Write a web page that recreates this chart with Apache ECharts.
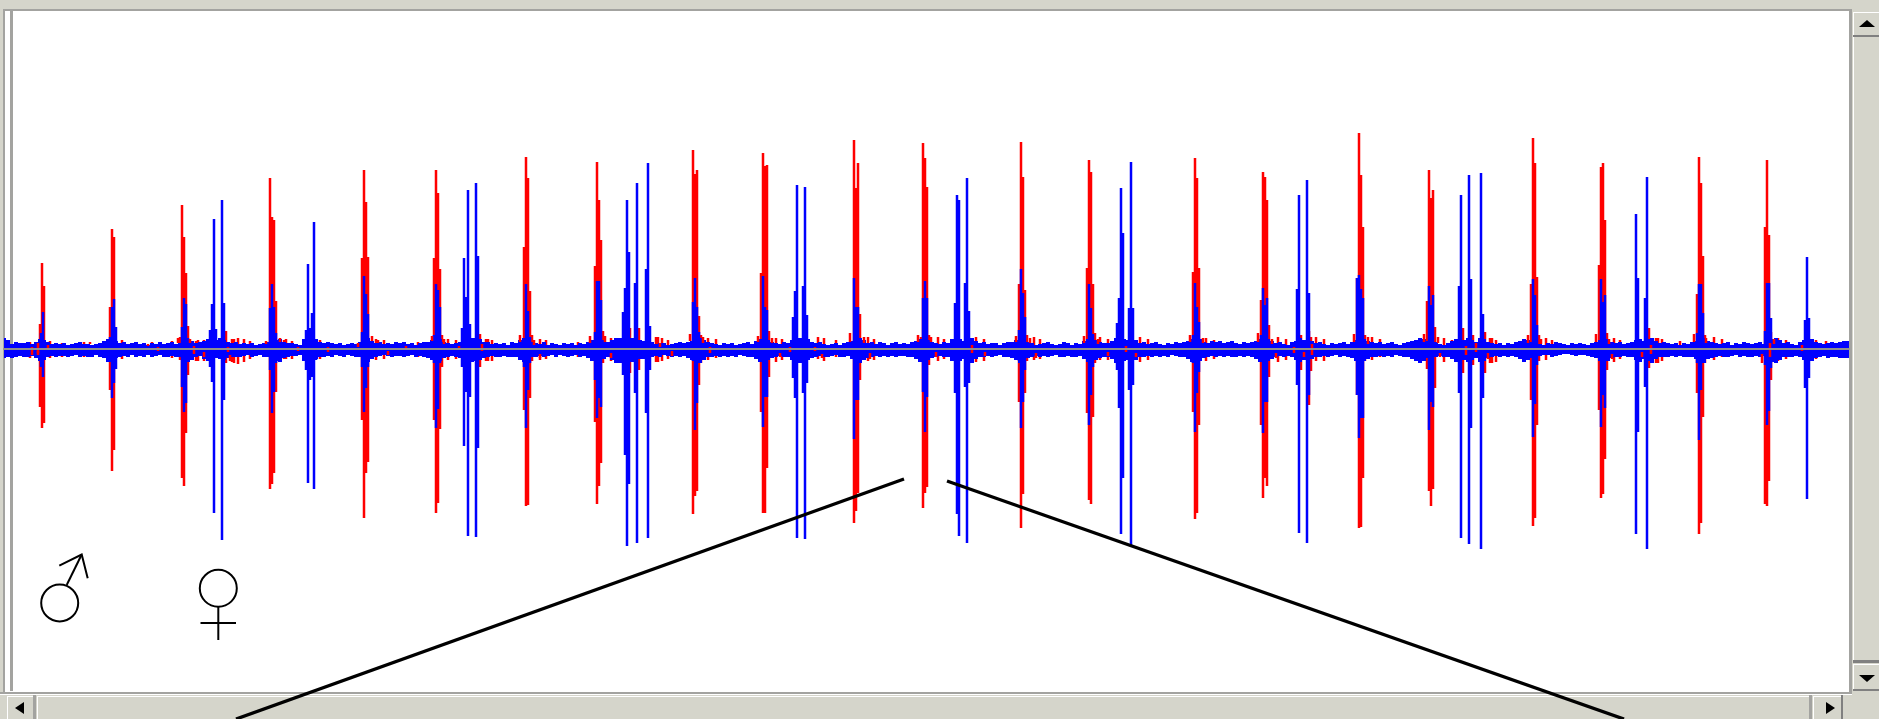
<!DOCTYPE html>
<html><head><meta charset="utf-8">
<style>html,body{margin:0;padding:0;background:#fff;overflow:hidden}#c{width:1879px;height:719px;filter:blur(.45px)}</style>
<script src="https://cdn.jsdelivr.net/npm/echarts@6/dist/echarts.min.js"></script>
</head><body><div id="c"></div>
<script>
// [sample, positive peak, negative peak]
const redSpikes=[
[40,25,-58],[42,86,-79],[44,63,-74],
[110,42,-41],[112,120,-122],[114,112,-101],
[182,144,-129],[184,112,-137],[186,76,-84],[188,23,-26],[180,12,-11],
[226,18,-14],
[270,171,-140],[272,132,-135],[274,129,-124],[276,48,-43],
[362,91,-71],[364,179,-169],[366,147,-124],[368,92,-113],
[434,91,-71],[436,179,-164],[438,156,-154],[440,80,-80],[442,14,-18],
[480,15,-18],
[524,102,-61],[526,192,-157],[528,171,-156],[530,58,-49],[532,14,-12],
[595,83,-73],[597,187,-155],[599,149,-137],[601,109,-114],[603,18,-14],
[630,21,-24],[639,21,-21],
[693,199,-165],[695,175,-147],[697,179,-142],[699,33,-36],[701,14,-14],
[761,76,-63],[763,196,-164],[765,183,-164],[767,184,-119],[769,18,-28],
[854,209,-174],[856,161,-162],[858,186,-144],[860,35,-31],
[923,206,-159],[925,191,-144],[927,162,-138],[929,14,-16],[921,12,-10],
[1019,65,-53],[1021,207,-179],[1023,172,-145],[1025,59,-44],[1027,14,-12],
[1087,81,-64],[1089,189,-151],[1091,177,-155],[1093,65,-68],[1095,16,-14],
[1193,77,-63],[1195,191,-170],[1197,171,-164],[1199,81,-76],
[1261,49,-76],[1263,177,-149],[1265,172,-129],[1267,149,-137],[1269,24,-28],
[1301,14,-21],[1309,18,-56],[1311,12,-22],
[1357,71,-46],[1359,216,-179],[1361,174,-178],[1363,122,-129],[1365,14,-12],
[1427,48,-20],[1429,179,-142],[1431,151,-157],[1433,159,-140],[1435,22,-39],
[1463,21,-24],[1473,14,-16],[1485,17,-24],
[1531,65,-51],[1533,211,-177],[1535,186,-169],[1537,72,-76],[1539,14,-12],
[1599,84,-61],[1601,182,-149],[1603,186,-145],[1605,129,-110],[1607,16,-21],
[1649,21,-19],
[1697,55,-44],[1699,192,-185],[1701,166,-174],[1703,93,-68],[1705,14,-14],
[1765,122,-155],[1767,189,-157],[1769,114,-132],[1771,17,-31]
];
const blueSpikes=[
[41,16,-18],[43,37,-28],
[110,12,-13],[112,42,-49],[114,50,-34],[116,22,-20],
[182,22,-38],[184,51,-63],[186,45,-54],[188,11,-8],
[210,19,-18],[212,45,-33],[214,130,-164],[216,20,-8],
[222,149,-191],[224,46,-51],
[270,41,-21],[272,65,-64],[274,42,-43],[276,16,-14],
[306,19,-21],[308,85,-134],[310,21,-31],[312,36,-28],[314,127,-140],[316,9,-11],
[362,17,-18],[364,73,-63],[366,55,-39],[368,35,-18],
[434,14,-14],[436,65,-79],[438,59,-60],[440,42,-14],
[462,21,-18],[464,91,-97],[466,52,-43],[468,159,-187],[470,25,-48],
[476,166,-188],[478,93,-99],
[524,9,-18],[526,65,-79],[528,38,-41],[530,12,-14],
[595,17,-31],[597,68,-69],[599,68,-49],[601,49,-58],
[623,37,-26],[625,61,-106],[627,149,-197],[629,97,-135],
[635,66,-44],[637,166,-194],[646,80,-64],[648,186,-189],[650,23,-21],
[693,47,-12],[695,71,-81],[697,42,-54],[699,17,-14],
[763,73,-78],[765,42,-48],[767,39,-48],
[793,32,-29],[795,58,-49],[797,164,-189],[803,63,-44],[805,162,-190],[807,34,-34],
[854,71,-90],[856,42,-51],[858,42,-51],
[923,51,-43],[925,68,-83],[927,51,-48],
[955,46,-44],[957,154,-165],[959,149,-187],[965,66,-38],[967,171,-194],[969,38,-34],
[1019,19,-12],[1021,80,-79],[1023,56,-53],[1025,32,-21],
[1089,65,-76],[1091,41,-46],[1093,15,-18],
[1117,26,-21],[1119,51,-59],[1121,161,-185],[1123,116,-129],
[1129,41,-41],[1131,187,-196],[1133,41,-36],
[1193,14,-14],[1195,66,-83],[1197,42,-44],[1199,27,-23],
[1261,14,-12],[1263,61,-84],[1265,44,-53],[1267,51,-53],
[1297,60,-36],[1299,154,-184],[1307,169,-194],[1309,56,-46],
[1357,71,-46],[1359,74,-89],[1361,60,-69],[1363,51,-69],
[1429,63,-81],[1431,44,-53],[1433,54,-58],
[1459,63,-44],[1461,154,-189],[1469,174,-195],[1471,70,-79],[1481,176,-200],[1483,35,-49],
[1533,70,-88],[1535,54,-55],[1537,24,-16],
[1601,70,-78],[1603,47,-46],[1605,54,-59],
[1636,135,-185],[1638,71,-83],[1645,51,-38],[1647,172,-200],
[1697,16,-14],[1699,65,-91],[1701,65,-41],[1703,36,-14],
[1765,18,-16],[1767,66,-76],[1769,66,-62],[1771,31,-19],
[1805,29,-39],[1807,92,-150],[1809,31,-29]
];
// one noise reading every four samples, starting at sample 4
const noiseStart=4, noiseStep=4;
const blueNoiseHi=[
11,9,5,7,6,6,7,5,7,10,9,7,5,6,5,6,4,5,6,7,5,5,4,5,6,
8,10,9,8,6,7,5,6,7,5,6,4,6,5,7,5,6,7,5,6,8,10,8,6,7,
8,10,11,9,11,9,7,6,7,5,6,5,6,4,5,6,7,7,9,10,7,6,6,5,4,
10,11,12,10,7,6,7,6,5,6,4,5,6,5,7,9,11,8,6,7,5,6,5,7,6,
7,5,6,4,6,7,7,9,11,10,7,6,5,6,7,11,12,11,11,10,7,7,5,6,5,
6,4,7,6,9,11,9,7,6,5,7,4,6,5,4,6,5,6,4,6,5,7,9,11,10,
9,7,9,11,11,12,11,11,11,9,8,6,7,5,6,6,4,5,6,7,6,7,8,10,11,
9,7,6,5,4,6,5,6,4,5,6,7,5,8,10,11,9,7,6,5,7,6,9,11,11,
12,10,7,6,7,5,4,5,6,4,6,7,8,10,11,9,6,7,5,7,6,4,6,7,5,
6,5,7,8,10,11,9,7,6,5,7,6,10,11,10,8,11,11,8,6,7,5,6,6,4,
6,7,7,9,11,9,7,6,4,5,6,7,5,4,5,7,6,4,6,5,8,10,11,9,7,
6,6,8,11,11,10,9,11,9,6,7,5,6,7,5,4,6,5,7,6,7,8,10,11,10,
7,6,8,7,8,6,7,8,6,5,7,6,7,8,10,11,10,8,6,7,5,4,7,8,11,
9,11,8,6,7,5,4,6,5,6,7,5,7,9,11,10,8,7,6,7,5,6,7,5,4,
6,7,8,9,11,10,8,6,7,5,4,6,8,10,11,9,11,9,7,11,10,7,6,5,6,
4,6,5,7,8,10,9,7,6,5,4,6,5,7,6,5,4,6,5,6,5,4,6,7,9,
11,10,7,6,7,5,6,7,9,10,8,10,11,8,6,7,6,5,6,4,6,5,7,8,10,
11,8,7,6,5,6,7,4,6,5,7,6,5,6,7,5,9,10,11,9,6,7,5,4,7,
9,11,10,7,6,5,6,7,6,7,8,8];
const blueNoiseLo=[
-9,-8,-9,-8,-7,-8,-8,-7,-9,-12,-11,-8,-7,-8,-7,-7,-8,-7,-6,-8,-7,-8,-8,-6,-8,
-9,-13,-12,-9,-8,-7,-8,-6,-8,-7,-8,-6,-8,-7,-6,-8,-8,-7,-8,-8,-10,-13,-11,-8,-7,
-10,-12,-11,-9,-10,-11,-9,-8,-8,-8,-7,-6,-8,-7,-6,-8,-8,-9,-12,-13,-9,-8,-7,-7,-6,
-12,-14,-13,-10,-8,-8,-7,-8,-6,-7,-8,-6,-7,-8,-8,-11,-13,-10,-8,-7,-6,-7,-8,-7,-7,
-8,-7,-6,-8,-7,-8,-9,-11,-13,-12,-9,-8,-7,-8,-9,-12,-14,-13,-12,-11,-9,-8,-7,-8,-8,
-7,-8,-8,-8,-11,-13,-10,-8,-8,-7,-8,-7,-6,-8,-6,-7,-8,-7,-6,-8,-7,-9,-12,-13,-12,
-10,-8,-11,-14,-14,-13,-12,-13,-14,-10,-10,-8,-8,-7,-8,-6,-7,-8,-7,-8,-7,-9,-11,-13,-14,
-11,-8,-8,-7,-8,-7,-8,-7,-8,-6,-7,-8,-8,-10,-13,-14,-11,-9,-8,-7,-8,-8,-11,-13,-14,
-13,-11,-9,-8,-7,-8,-8,-7,-6,-8,-8,-7,-10,-12,-14,-11,-9,-8,-7,-8,-7,-8,-7,-8,-7,
-7,-8,-8,-10,-13,-14,-11,-9,-8,-7,-8,-8,-12,-14,-12,-10,-13,-14,-10,-8,-8,-7,-8,-7,-6,
-8,-8,-9,-11,-14,-11,-9,-8,-7,-8,-7,-8,-7,-6,-8,-8,-7,-8,-8,-7,-10,-13,-14,-11,-9,
-8,-8,-10,-14,-14,-12,-11,-14,-11,-8,-8,-7,-8,-7,-8,-7,-8,-6,-7,-8,-8,-10,-13,-14,-12,
-9,-8,-7,-8,-7,-8,-7,-8,-8,-7,-8,-7,-8,-10,-13,-14,-12,-10,-8,-7,-8,-7,-8,-11,-13,
-11,-13,-10,-8,-8,-7,-8,-7,-6,-8,-7,-8,-9,-12,-14,-12,-10,-8,-8,-7,-8,-7,-8,-6,-7,
-8,-8,-10,-12,-14,-12,-9,-8,-8,-7,-8,-8,-10,-13,-13,-11,-13,-11,-9,-13,-12,-9,-8,-7,-8,
-7,-8,-7,-8,-10,-13,-11,-9,-8,-7,-6,-6,-8,-7,-6,-5,-5,-6,-7,-6,-6,-7,-8,-9,-12,
-14,-12,-9,-8,-8,-7,-8,-8,-11,-13,-10,-12,-14,-10,-8,-8,-8,-7,-8,-7,-8,-8,-8,-10,-13,
-14,-10,-9,-8,-7,-8,-8,-7,-6,-8,-7,-8,-8,-7,-8,-7,-11,-13,-14,-11,-8,-8,-8,-7,-8,
-11,-13,-12,-9,-8,-7,-9,-8,-8,-9,-9,-9];
// red residue that shows past the blue noise, mostly just after each call
const redTail=[
[30,7,-9],[50,8,-9],[62,6,-8],[84,7,-8],[122,9,-10],[152,7,-8],[172,8,-9],
[196,8,-12],[198,9,-12],[204,9,-12],[232,10,-13],[234,10,-14],[238,11,-15],[244,10,-13],[250,8,-10],[284,9,-10],[286,10,-10],[292,8,-10],
[320,9,-10],[376,10,-11],[384,9,-10],[418,7,-8],[448,10,-11],[456,9,-10],[486,10,-12],[488,10,-12],[492,9,-12],
[540,10,-11],[546,9,-10],[578,7,-8],[611,11,-12],[617,10,-11],[656,12,-13],[658,12,-13],[662,11,-12],[668,9,-10],
[708,11,-11],[716,10,-9],[776,11,-13],[782,10,-11],[818,12,-10],[824,11,-12],[836,9,-8],[868,12,-12],
[874,10,-11],[938,12,-12],[944,10,-10],[976,12,-13],[984,10,-12],[1034,12,-11],[1040,10,-10],[1100,12,-11],
[1108,10,-11],[1140,12,-13],[1148,10,-11],[1206,11,-12],[1214,9,-10],[1278,12,-13],[1286,10,-11],
[1316,12,-12],[1324,10,-12],[1372,12,-11],[1380,10,-8],[1444,11,-13],[1452,9,-10],[1490,11,-14],[1492,11,-14],[1496,9,-13],
[1546,11,-11],[1552,9,-8],[1614,11,-13],[1620,9,-10],[1656,11,-14],[1658,11,-14],[1662,10,-12],[1680,8,-7],[1714,12,-11],
[1722,10,-8],[1778,11,-12],[1786,9,-10],[1816,9,-10],[1826,8,-7]
];
// red samples drawn in front of the blue trace
const redOverlay=[
[32,2,-6],[38,6,-4],[48,4,-1],[38,-2,-6],[90,7,5],[148,5,3],[158,2,-2],[178,11,6],[190,10,6],[194,3,-5],[204,-3,-8],
[228,2,-3],[230,-6,-12],[266,8,5],[280,11,7],[298,2,-2],[328,2,-3],[358,6,2],[372,13,8],[378,9,6],[388,-2,-6],
[406,3,-1],[432,13,8],[444,10,5],[459,3,-1],[482,5,-2],[520,14,7],[534,9,4],[540,-5,-9],[590,13,6],[605,13,7],[611,-4,-9],
[660,6,2],[672,-2,-7],[690,15,8],[703,12,6],[710,2,-4],[758,13,7],[772,11,6],[780,-4,-8],[790,2,-3],[815,2,-2],[822,-5,-9],
[850,16,7],[864,12,6],[870,-4,-10],[918,14,7],[931,12,7],[936,-3,-8],[972,4,-4],[985,-3,-7],[1016,13,7],[1030,11,6],
[1036,-4,-9],[1084,13,6],[1098,10,5],[1108,-3,-7],[1126,3,-3],[1136,-4,-8],[1190,14,7],[1203,11,6],[1258,16,7],[1272,10,5],
[1276,-4,-9],[1294,2,-4],[1304,-3,-8],[1312,5,-6],[1354,15,7],[1368,12,5],[1424,15,7],[1438,12,6],[1440,-4,-8],[1466,3,-6],
[1476,6,-3],[1488,-4,-10],[1528,14,6],[1541,10,5],[1596,15,7],[1609,10,5],[1612,-5,-10],[1642,-3,-8],[1651,4,-5],[1694,15,7],
[1706,11,6],[1762,-5,-14],[1770,6,-8],[1774,10,5],[1802,4,-2]
];
const spikeWidth=2.5;
const sampled=(hi,lo)=>hi.map((h,i)=>[noiseStart+i*noiseStep,h,lo[i]]);

function bars(width,color){return function(p,api){
  const x=api.value(0),a=api.coord([x,api.value(1)]),b=api.coord([x,api.value(2)]);
  const w=api.size([width,0])[0];
  return {type:'rect',shape:{x:a[0]-w/2,y:a[1],width:w,height:b[1]-a[1]},style:{fill:color}};
};}
function series(name,data,width,color,z){
  return {name,type:'custom',data,z,clip:true,silent:true,animation:false,
    encode:{x:0,y:[1,2]},renderItem:bars(width,color)};
}

const face='#d5d5cb',shade='#808080',mid='#a3a3a0',hi='#ffffff';
const rect=(x,y,w,h,fill,z)=>({type:'rect',shape:{x,y,width:w,height:h},style:{fill},z:z||1,silent:true});
const tri=(pts,z)=>({type:'polygon',shape:{points:pts},style:{fill:'#000'},z:z||3,silent:true});
const stroke=(pts,w)=>({type:'polyline',shape:{points:pts},style:{stroke:'#000',lineWidth:w,fill:null,lineCap:'butt'},z:20,silent:true});
const ring=(cx,cy,r)=>({type:'circle',shape:{cx,cy,r},style:{stroke:'#000',lineWidth:2,fill:null},z:20,silent:true});
const chrome=[
  rect(0,0,1879,719,'#fff',-5),
  rect(0,0,1879,9,face),rect(0,9,1850,2,mid),
  rect(0,0,3,693,face),rect(3,9,2,684,mid),rect(10,11,3,680,mid),
  rect(1849,9,3,684,mid),rect(1852,0,27,719,face),
  rect(1853,12,26,1,hi),rect(1853,12,1,24,hi),rect(1853,35,26,2,shade),
  rect(1853,37,1,623,hi),rect(1853,660,26,3,shade),
  rect(1853,664,26,1,hi),rect(1853,664,1,26,hi),rect(1853,689,26,2,shade),
  rect(0,692,1852,27,face),rect(0,692,1852,2,mid),rect(0,694,1852,1,hi),
  rect(7,696,26,1,hi),rect(7,696,1,23,hi),rect(33,695,3,24,mid),rect(37,696,1772,1,hi),rect(37,696,1,23,hi),
  rect(1809,695,3,24,mid),rect(1813,696,28,1,hi),rect(1813,696,1,23,hi),rect(1841,695,2,24,shade),
  tri([[1867,20],[1859,27],[1875,27]]),
  tri([[1867,682],[1859,675],[1875,675]]),
  tri([[15,708],[24,702],[24,714]]),
  tri([[1835,708],[1826,702],[1826,714]]),
  stroke([[904,479],[236,719]],3.4),
  stroke([[947,481],[1624,719]],3.4),
  ring(59.7,603,18.5),
  stroke([[66.7,585],[81.7,554.5]],2),
  stroke([[59.3,565.7],[81.7,554.5],[87.7,578.3]],2),
  ring(218.3,588.3,18.5),
  stroke([[218.3,607],[218.3,640]],2),
  stroke([[200.5,623],[236,623]],2)
];

const chart=echarts.init(document.getElementById('c'),null,{renderer:'canvas'});
chart.setOption({
  animation:false,
  backgroundColor:'transparent',
  grid:{left:4,right:30,top:11,bottom:27},
  xAxis:{type:'value',min:4,max:1849,z:10,splitLine:{show:false},axisTick:{show:false},axisLabel:{show:false},
    axisLine:{show:true,onZero:true,lineStyle:{color:'#8f8f8f',width:2}}},
  yAxis:{type:'value',min:-343,max:338,splitLine:{show:false},axisTick:{show:false},axisLabel:{show:false},axisLine:{show:false}},
  series:[
    series('female residue',redTail,spikeWidth,'#ff0000',2),
    series('female',redSpikes,spikeWidth,'#ff0000',3),
    series('male noise',sampled(blueNoiseHi,blueNoiseLo),noiseStep,'#0000ff',4),
    series('male',blueSpikes,spikeWidth,'#0000ff',5),
    series('female overlay',redOverlay,spikeWidth,'#ff0000',6)
  ],
  graphic:{elements:chrome}
});
</script></body></html>
